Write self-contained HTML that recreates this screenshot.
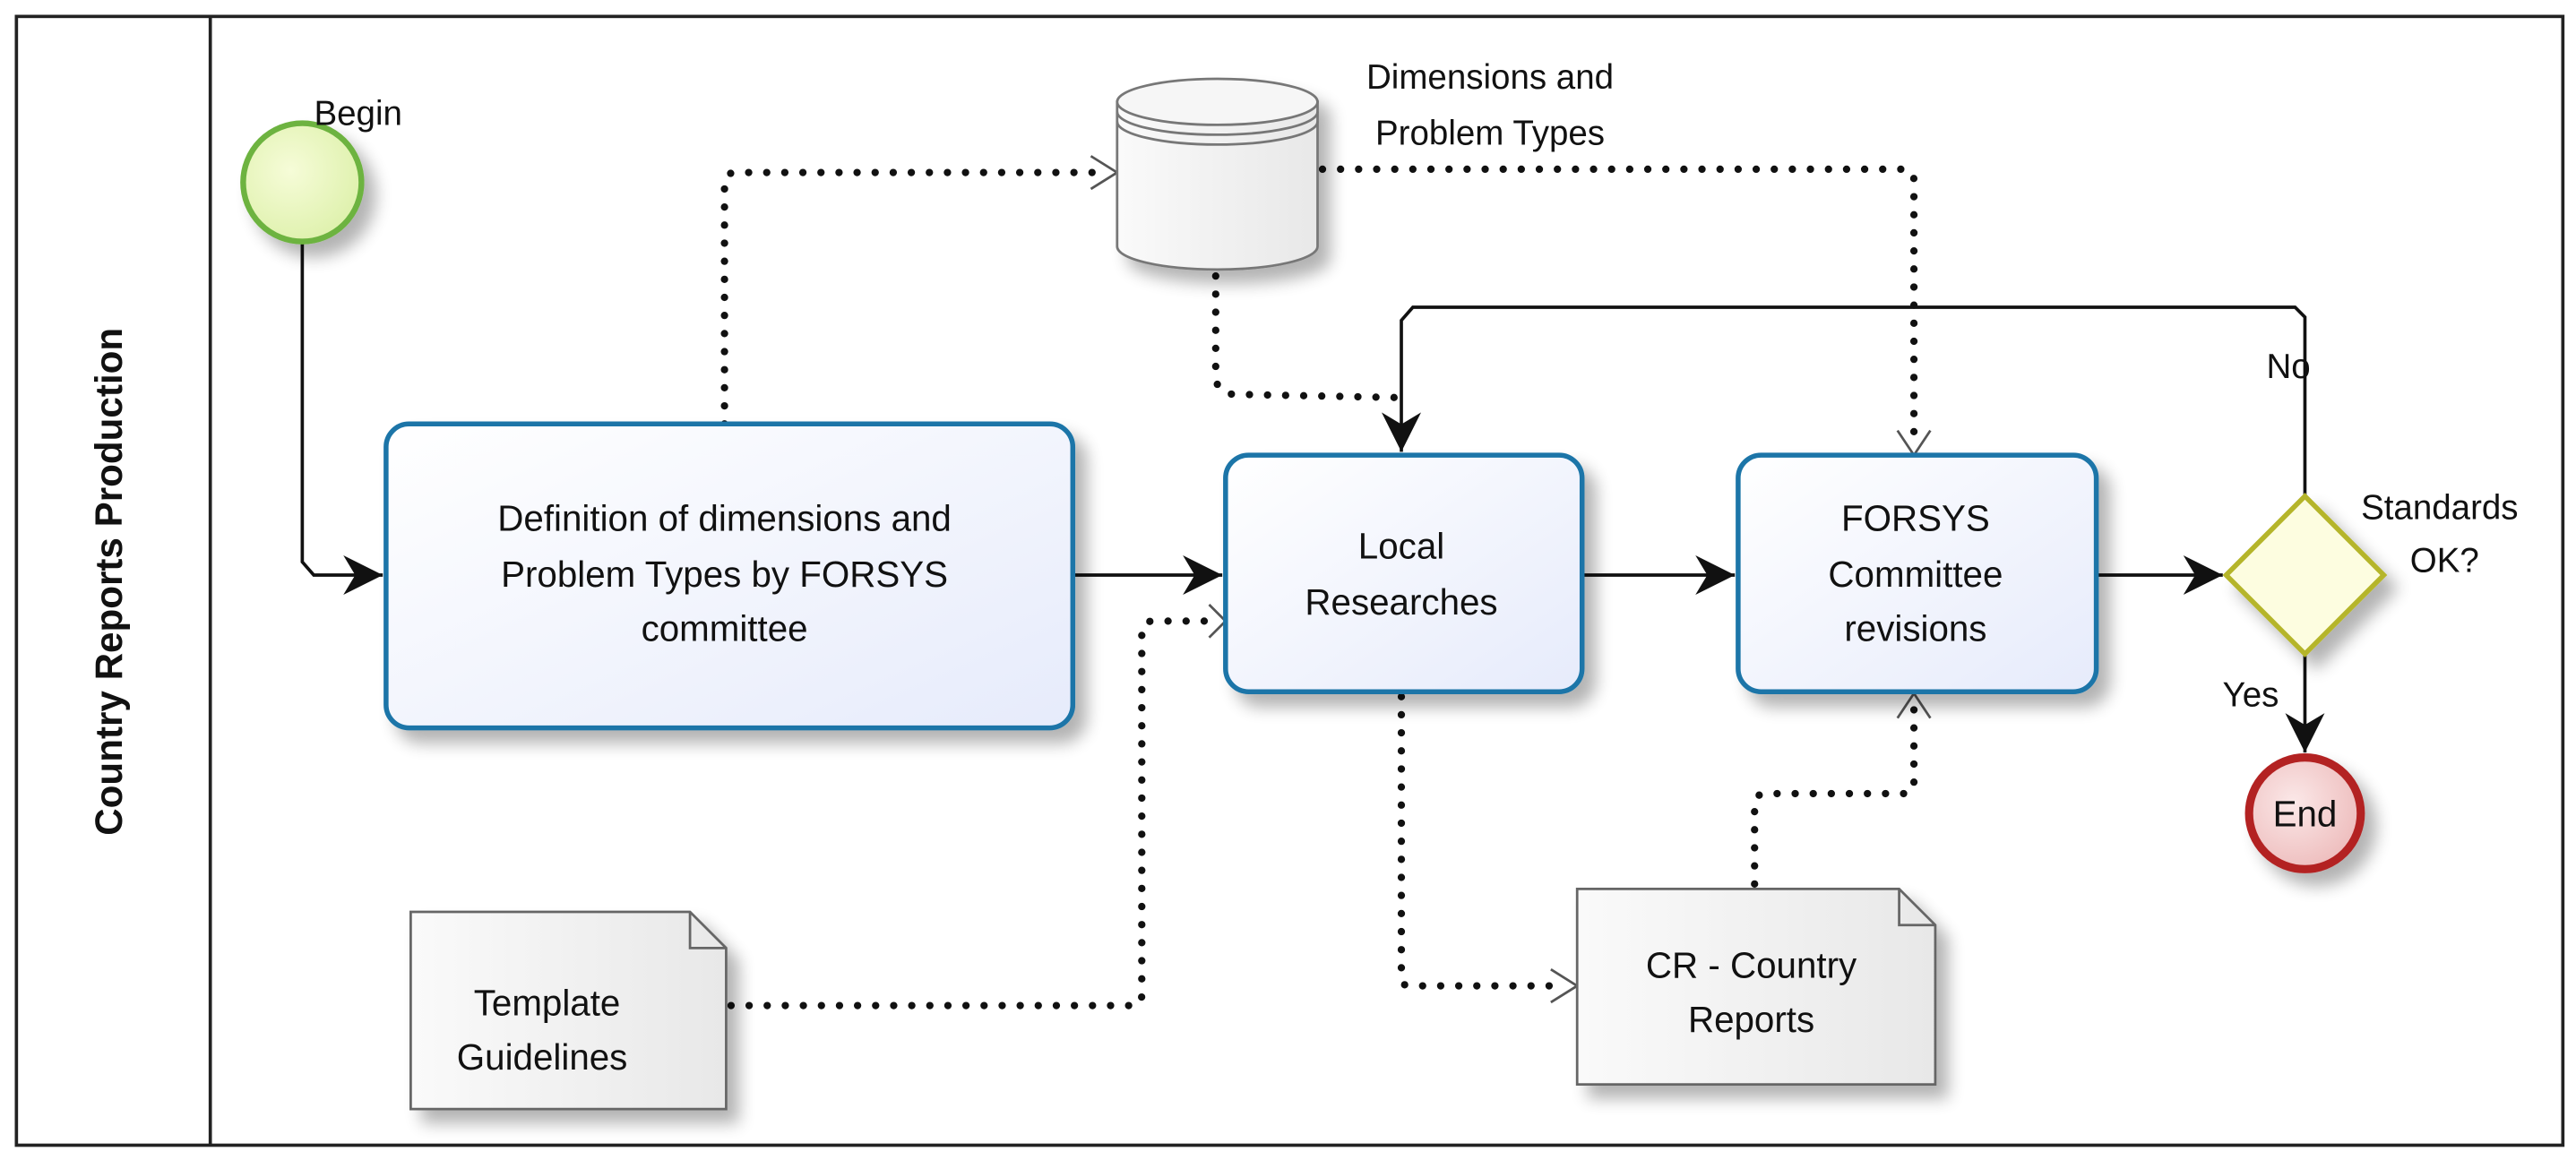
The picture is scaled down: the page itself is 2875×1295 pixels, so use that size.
<!DOCTYPE html>
<html><head><meta charset="utf-8"><style>
html,body{margin:0;padding:0;background:#fff;}
svg{display:block;}
text{font-family:"Liberation Sans",sans-serif;fill:#111;}
</style></head><body>
<svg width="2875" height="1295" viewBox="0 0 1568 706" preserveAspectRatio="none" xmlns="http://www.w3.org/2000/svg">
<defs>
<filter id="sh" x="-20%" y="-20%" width="150%" height="150%"><feGaussianBlur in="SourceAlpha" stdDeviation="5"/><feOffset dx="7" dy="8"/><feComponentTransfer><feFuncA type="linear" slope="0.3"/></feComponentTransfer><feMerge><feMergeNode/><feMergeNode in="SourceGraphic"/></feMerge></filter>
<linearGradient id="tg" x1="0" y1="0" x2="1" y2="1"><stop offset="0" stop-color="#ffffff"/><stop offset="1" stop-color="#e6ebfb"/></linearGradient>
<radialGradient id="gg" cx="0.4" cy="0.4" r="0.7"><stop offset="0" stop-color="#f6fcd8"/><stop offset="1" stop-color="#dcf0a8"/></radialGradient>
<radialGradient id="rg" cx="0.4" cy="0.4" r="0.7"><stop offset="0" stop-color="#fbe8e8"/><stop offset="1" stop-color="#ecb8b8"/></radialGradient>
<linearGradient id="dg" x1="0" y1="0" x2="1" y2="0"><stop offset="0" stop-color="#fafafa"/><stop offset="1" stop-color="#e8e8e8"/></linearGradient>
<marker id="af" viewBox="0 0 10 10" refX="10" refY="5" markerWidth="24" markerHeight="24" markerUnits="userSpaceOnUse" orient="auto"><path d="M0,0 L10,5 L0,10 L3,5 z" fill="#111"/></marker>
</defs>
<rect x="10" y="10" width="1550" height="687" fill="#fff" stroke="#222" stroke-width="2"/>
<line x1="128" y1="10" x2="128" y2="697" stroke="#222" stroke-width="2"/>
<text x="68" y="354" transform="rotate(-90 68 354)" text-anchor="middle" dominant-baseline="middle" font-size="23" font-weight="bold">Country Reports Production</text>

<g fill="none" stroke="#111" stroke-width="4.5" stroke-linecap="round" stroke-dasharray="0 11">
<path d="M441,258 L441,112 Q441,105 448,105 L672,105"/>
<path d="M740,168 L740,228 Q740,240 752,240 L852,242"/>
<path d="M805,103 L1158,103 Q1165,103 1165,110 L1165,270"/>
<path d="M445,612 L690,612 Q695,612 695,605 L695,385 Q695,378 702,378 L738,378"/>
<path d="M853,424 L853,595 Q853,600 858,600 L952,600"/>
<path d="M1068,538 L1068,490 Q1068,483 1075,483 L1160,483 Q1165,483 1165,476 L1165,430"/>
</g>
<g fill="none" stroke="#555" stroke-width="1.5">
<path d="M664,95 L680,105 L664,115"/>
<path d="M1155,262 L1165,277 L1175,262"/>
<path d="M736,368 L746,378 L736,388"/>
<path d="M944,590 L960,600 L944,610"/>
<path d="M1155,437 L1165,422 L1175,437"/>
</g>

<g fill="none" stroke="#111" stroke-width="2">
<path d="M184,147 L184,342 L191,350 L233,350" marker-end="url(#af)"/>
<path d="M653,350 L744,350" marker-end="url(#af)"/>
<path d="M963,350 L1056,350" marker-end="url(#af)"/>
<path d="M1276,350 L1353,350" marker-end="url(#af)"/>
<path d="M1403,302 L1403,193 L1397,187 L860,187 L853,195 L853,275" marker-end="url(#af)"/>
<path d="M1403,398 L1403,458" marker-end="url(#af)"/>
</g>

<circle cx="184" cy="111" r="36" fill="url(#gg)" stroke="#6db33f" stroke-width="3.5" filter="url(#sh)"/>
<text x="218" y="76" text-anchor="middle" font-size="21">Begin</text>

<g filter="url(#sh)">
<path d="M680,62 L680,150 A61,14 0 0 0 802,150 L802,62 Z" fill="url(#dg)" stroke="#777" stroke-width="1.5"/>
<ellipse cx="741" cy="62" rx="61" ry="14" fill="#f6f6f6" stroke="#777" stroke-width="1.5"/>
</g>
<path d="M680,68 A61,14 0 0 0 802,68 M680,74 A61,14 0 0 0 802,74" fill="none" stroke="#777" stroke-width="1.5"/>
<text x="907" y="54" text-anchor="middle" font-size="21">Dimensions and</text>
<text x="907" y="88" text-anchor="middle" font-size="21">Problem Types</text>

<g stroke="#1b75a8" stroke-width="3" fill="url(#tg)" filter="url(#sh)">
<rect x="235" y="258" width="418" height="185" rx="14"/>
<rect x="746" y="277" width="217" height="144" rx="14"/>
<rect x="1058" y="277" width="218" height="144" rx="14"/>
</g>
<g font-size="22" text-anchor="middle">
<text x="441" y="323">Definition of dimensions and</text>
<text x="441" y="357">Problem Types by FORSYS</text>
<text x="441" y="390">committee</text>
<text x="853" y="340">Local</text>
<text x="853" y="374">Researches</text>
<text x="1166" y="323">FORSYS</text>
<text x="1166" y="357">Committee</text>
<text x="1166" y="390">revisions</text>
</g>

<path d="M1403,302 L1451,350 L1403,398 L1355,350 Z" fill="#fdfde0" stroke="#b5b52a" stroke-width="3" filter="url(#sh)"/>
<text x="1485" y="316" text-anchor="middle" font-size="21">Standards</text>
<text x="1488" y="348" text-anchor="middle" font-size="21">OK?</text>
<text x="1393" y="230" text-anchor="middle" font-size="21">No</text>
<text x="1370" y="430" text-anchor="middle" font-size="21">Yes</text>

<circle cx="1403" cy="495" r="34" fill="url(#rg)" stroke="#b32424" stroke-width="5" filter="url(#sh)"/>
<text x="1403" y="503" text-anchor="middle" font-size="22">End</text>

<g fill="url(#dg)" stroke="#666" stroke-width="1.5" filter="url(#sh)">
<path d="M250,555 L420,555 L442,577 L442,675 L250,675 Z"/>
<path d="M960,541 L1156,541 L1178,563 L1178,660 L960,660 Z"/>
</g>
<path d="M420,555 L420,577 L442,577 M1156,541 L1156,563 L1178,563" fill="none" stroke="#666" stroke-width="1.5"/>
<g font-size="22" text-anchor="middle">
<text x="333" y="618">Template</text>
<text x="330" y="651">Guidelines</text>
<text x="1066" y="595">CR - Country</text>
<text x="1066" y="628">Reports</text>
</g>
</svg>
</body></html>
